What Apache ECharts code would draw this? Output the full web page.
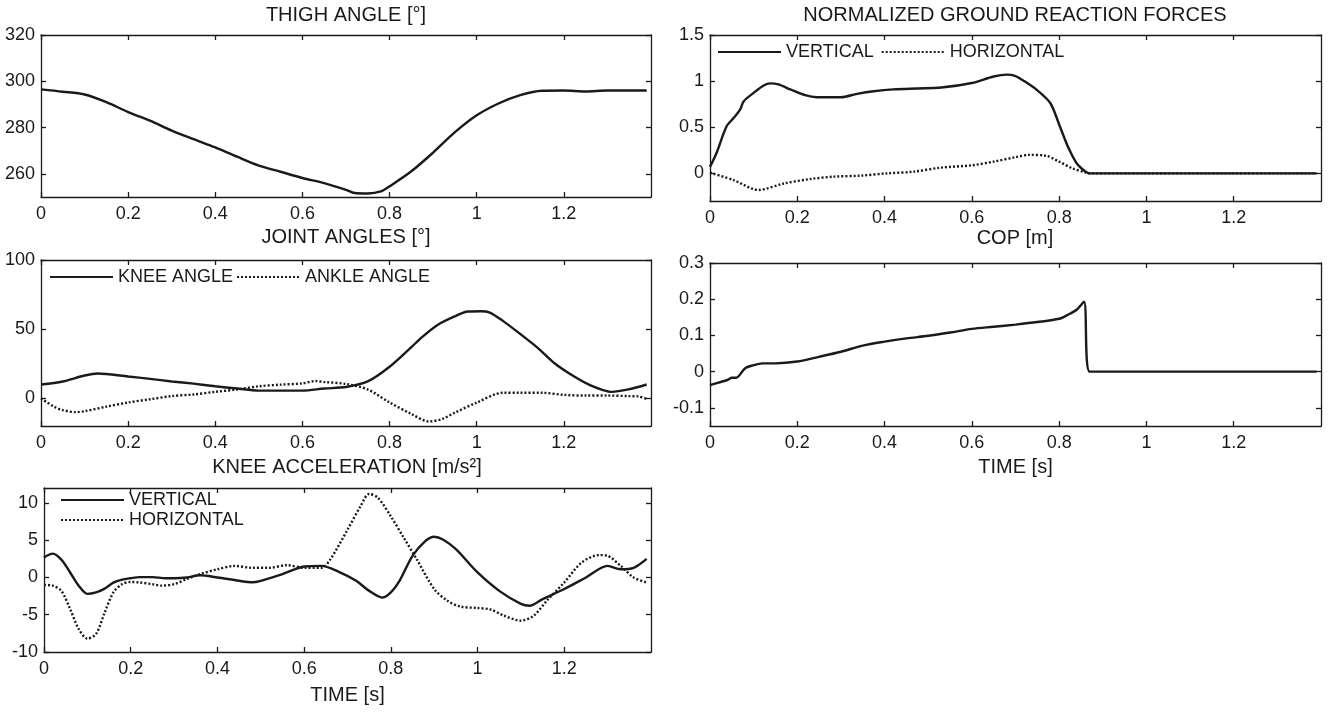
<!DOCTYPE html>
<html>
<head>
<meta charset="utf-8">
<script src="https://cdn.jsdelivr.net/npm/echarts@6/dist/echarts.min.js"></script>
<style>
html, body { margin: 0; padding: 0; background: #fff; }
#main { width: 1332px; height: 715px; }
</style>
</head>
<body>
<div id="main"></div>
<script>
// ---- data ----
var timeTicks = [0, 0.2, 0.4, 0.6, 0.8, 1, 1.2];

// thigh angle [deg]
var thighT = [0, 0.05, 0.1, 0.15, 0.2, 0.25, 0.3, 0.35, 0.4, 0.45, 0.5, 0.55, 0.6, 0.65, 0.7, 0.72, 0.75, 0.78, 0.8, 0.85, 0.9, 0.95, 1.0, 1.05, 1.1, 1.15, 1.2, 1.25, 1.3, 1.35, 1.39];
var thighAngle = [296.5, 295.5, 294.3, 291, 286.7, 283, 278.7, 275, 271.4, 267.4, 263.6, 260.9, 258.2, 256, 253.1, 251.7, 251.5, 252.4, 254.6, 261.1, 269.2, 278, 285.3, 290.4, 294, 295.9, 296, 295.6, 296, 296, 296];

// joint angles [deg]
var kneeT = [0, 0.05, 0.1, 0.13, 0.15, 0.2, 0.25, 0.3, 0.35, 0.4, 0.45, 0.5, 0.55, 0.6, 0.65, 0.7, 0.75, 0.8, 0.85, 0.87, 0.91, 0.95, 0.98, 1.01, 1.03, 1.06, 1.1, 1.14, 1.18, 1.22, 1.26, 1.29, 1.31, 1.35, 1.39];
var kneeAngle = [10, 12.2, 16.5, 18, 17.6, 15.8, 14.1, 12.2, 10.6, 8.7, 7.1, 5.6, 5.6, 5.6, 7.1, 8.2, 12.2, 22.8, 37, 43, 53, 59.3, 62.8, 63, 62, 56, 46.5, 36.5, 25, 16.5, 9.5, 6, 4.7, 6.6, 10];
var ankleT = [0, 0.03, 0.05, 0.08, 0.1, 0.15, 0.2, 0.25, 0.3, 0.35, 0.4, 0.45, 0.5, 0.55, 0.6, 0.63, 0.65, 0.7, 0.75, 0.8, 0.85, 0.89, 0.92, 0.95, 1.0, 1.06, 1.1, 1.15, 1.2, 1.25, 1.3, 1.35, 1.37, 1.39];
var ankleAngle = [0, -6, -8.5, -10, -9.3, -6, -3, -0.7, 1.6, 2.8, 4.7, 6.4, 8.7, 9.9, 10.8, 12.5, 11.8, 10.4, 6.4, -3, -11.3, -16.7, -15, -10.3, -3.1, 4, 4, 4, 2.5, 2, 2, 1.6, 1.4, -0.5];

// knee acceleration [m/s2]
var accVT = [0, 0.02, 0.04, 0.06, 0.08, 0.1, 0.12, 0.14, 0.16, 0.18, 0.2, 0.22, 0.25, 0.28, 0.3, 0.33, 0.36, 0.4, 0.45, 0.48, 0.5, 0.55, 0.6, 0.64, 0.68, 0.72, 0.75, 0.78, 0.8, 0.82, 0.85, 0.88, 0.9, 0.92, 0.95, 1.0, 1.05, 1.1, 1.12, 1.15, 1.2, 1.25, 1.3, 1.33, 1.36, 1.39];
var accVertical = [2.67, 3.2, 2.4, 0.7, -1.1, -2.2, -2.0, -1.5, -0.7, -0.3, -0.1, 0.05, 0.05, -0.1, -0.1, 0, 0.3, 0, -0.45, -0.65, -0.45, 0.45, 1.47, 1.55, 0.75, -0.45, -1.8, -2.7, -2.0, -0.45, 2.9, 4.9, 5.47, 5.1, 3.8, 0.67, -1.8, -3.55, -3.8, -2.9, -1.55, 0, 1.55, 1.1, 1.3, 2.5];
var accHT = [0, 0.02, 0.04, 0.06, 0.08, 0.1, 0.12, 0.14, 0.16, 0.18, 0.2, 0.22, 0.25, 0.27, 0.3, 0.33, 0.36, 0.4, 0.44, 0.48, 0.52, 0.56, 0.6, 0.64, 0.66, 0.7, 0.73, 0.75, 0.77, 0.8, 0.83, 0.86, 0.9, 0.93, 0.96, 1.0, 1.03, 1.06, 1.1, 1.13, 1.16, 1.2, 1.24, 1.28, 1.3, 1.33, 1.36, 1.39];
var accHorizontal = [-1.0, -1.1, -1.8, -4.2, -6.9, -8.2, -7.6, -4.7, -2.0, -0.9, -0.6, -0.67, -0.9, -1.1, -0.9, -0.2, 0.45, 1.1, 1.55, 1.3, 1.3, 1.65, 1.3, 1.3, 2.4, 6.4, 9.55, 11.2, 10.7, 8.2, 5.3, 2.4, -1.55, -3.1, -3.9, -4.1, -4.3, -5.1, -5.8, -5.1, -3.1, -0.67, 2.0, 3.0, 2.9, 1.55, 0, -0.67];

// normalized ground reaction forces
var grfVT = [0, 0.015, 0.038, 0.054, 0.069, 0.077, 0.1, 0.123, 0.138, 0.157, 0.184, 0.218, 0.245, 0.3, 0.337, 0.375, 0.42, 0.475, 0.53, 0.6, 0.65, 0.68, 0.7, 0.72, 0.75, 0.78, 0.8, 0.82, 0.84, 0.86, 0.87, 1.0, 1.2, 1.39];
var grfVertical = [0.07, 0.22, 0.51, 0.6, 0.69, 0.78, 0.873, 0.953, 0.975, 0.964, 0.91, 0.847, 0.825, 0.825, 0.862, 0.89, 0.91, 0.92, 0.93, 0.98, 1.05, 1.07, 1.055, 1.0, 0.9, 0.76, 0.53, 0.29, 0.11, 0.02, 0, 0, 0, 0];
var grfHT = [0, 0.054, 0.111, 0.169, 0.23, 0.284, 0.345, 0.406, 0.467, 0.529, 0.6, 0.65, 0.7, 0.73, 0.77, 0.8, 0.83, 0.86, 0.87, 1.0, 1.2, 1.39];
var grfHorizontal = [0.007, -0.073, -0.18, -0.11, -0.062, -0.036, -0.025, 0, 0.018, 0.062, 0.087, 0.127, 0.175, 0.2, 0.19, 0.127, 0.055, 0.01, 0, 0, 0, 0];

// centre of pressure [m]
var copT = [0, 0.02, 0.04, 0.05, 0.06, 0.08, 0.1, 0.12, 0.15, 0.2, 0.25, 0.3, 0.35, 0.4, 0.45, 0.5, 0.55, 0.6, 0.65, 0.7, 0.75, 0.8, 0.82, 0.84, 0.857, 0.87, 1.0, 1.2, 1.39];
var copValue = [-0.037, -0.03, -0.023, -0.017, -0.017, 0.009, 0.018, 0.023, 0.023, 0.028, 0.041, 0.055, 0.072, 0.083, 0.092, 0.099, 0.108, 0.118, 0.124, 0.13, 0.137, 0.146, 0.157, 0.171, 0.193, 0, 0, 0, 0];

// ---- chart ----
var FONT = '"Liberation Sans", Arial, sans-serif';
var INK = '#1a1a1a';

var grids = [
	{left: 41, top: 35, width: 610, height: 162},   // thigh
	{left: 41, top: 260, width: 610, height: 166},  // joint angles
	{left: 44, top: 488, width: 607, height: 164},  // knee acceleration
	{left: 710, top: 35, width: 611, height: 166},  // GRF
	{left: 710, top: 263, width: 611, height: 163}  // COP
];

var xAxes = [], yAxes = [];
function addAxes(g, yMin, yMax, yTicks, timeName, nameGap) {
	var axisLine = {show: true, onZero: false, lineStyle: {color: INK, width: 1.3}};
	function ticks(v) {
		return {show: true, inside: true, length: 5, customValues: v, lineStyle: {color: INK, width: 1.3}};
	}
	var lab = {fontSize: 18, color: INK, fontFamily: FONT};
	xAxes.push({
		gridIndex: g, type: 'value', min: 0, max: 1.4, position: 'bottom',
		axisLine: axisLine, axisTick: ticks(timeTicks), splitLine: {show: false},
		axisLabel: Object.assign({customValues: timeTicks, margin: 8}, lab),
		name: timeName || '', nameLocation: 'middle', nameGap: nameGap || 30,
		nameTextStyle: {fontSize: 20, color: INK, fontFamily: FONT}
	});
	xAxes.push({
		gridIndex: g, type: 'value', min: 0, max: 1.4, position: 'top',
		axisLine: axisLine, axisTick: ticks(timeTicks), splitLine: {show: false},
		axisLabel: {show: false}
	});
	yAxes.push({
		gridIndex: g, type: 'value', min: yMin, max: yMax, position: 'left',
		axisLine: axisLine, axisTick: ticks(yTicks), splitLine: {show: false},
		axisLabel: Object.assign({customValues: yTicks, margin: 6}, lab)
	});
	yAxes.push({
		gridIndex: g, type: 'value', min: yMin, max: yMax, position: 'right',
		axisLine: axisLine, axisTick: ticks(yTicks), splitLine: {show: false},
		axisLabel: {show: false}
	});
}
addAxes(0, 250, 320, [260, 280, 300, 320]);
addAxes(1, -20, 100, [0, 50, 100]);
addAxes(2, -10, 12, [-10, -5, 0, 5, 10], 'TIME [s]', 33);
addAxes(3, -0.3, 1.5, [0, 0.5, 1, 1.5]);
addAxes(4, -0.15, 0.3, [-0.1, 0, 0.1, 0.2, 0.3], 'TIME [s]', 31);

function curve(name, ts, vs, g, dotted) {
	return {
		name: name, type: 'line', xAxisIndex: 2 * g, yAxisIndex: 2 * g,
		data: ts.map(function (t, i) { return [t, vs[i]]; }),
		symbol: 'none', smooth: 0.3, animation: false,
		lineStyle: {color: INK, width: 2.4, type: dotted ? [2, 2] : 'solid'},
		itemStyle: {color: INK},
		z: dotted ? 2 : 3
	};
}

var legendBase = {
	padding: 0, itemWidth: 63, itemHeight: 14, selectedMode: false,
	textStyle: {fontSize: 18, color: INK, fontFamily: FONT},
	itemStyle: {color: 'rgba(0,0,0,0)', borderWidth: 0, opacity: 0}
};

function title(text, x, y) {
	return {
		type: 'text', x: x, y: y,
		style: {text: text, fontSize: 20, fontFamily: FONT, fill: INK, align: 'center', verticalAlign: 'middle'}
	};
}

var chart = echarts.init(document.getElementById('main'));
chart.setOption({
	backgroundColor: '#fff',
	animation: false,
	grid: grids,
	xAxis: xAxes,
	yAxis: yAxes,
	legend: [
		Object.assign({data: ['VERTICAL', 'HORIZONTAL'], left: 717, top: 43, itemGap: 7}, legendBase),
		Object.assign({data: ['KNEE ANGLE', 'ANKLE ANGLE'], left: 49, top: 268, itemGap: 3}, legendBase),
		Object.assign({data: ['VERTICAL', 'HORIZONTAL'], left: 60, top: 491, orient: 'vertical', itemGap: 2}, legendBase)
	],
	graphic: [
		title('THIGH ANGLE [°]', 346, 15),
		title('NORMALIZED GROUND REACTION FORCES', 1015, 15),
		title('JOINT ANGLES [°]', 346, 237),
		title('COP [m]', 1015, 238),
		title('KNEE ACCELERATION [m/s²]', 347, 467)
	],
	series: [
		curve('THIGH ANGLE', thighT, thighAngle, 0, false),
		curve('KNEE ANGLE', kneeT, kneeAngle, 1, false),
		curve('ANKLE ANGLE', ankleT, ankleAngle, 1, true),
		curve('VERTICAL', accVT, accVertical, 2, false),
		curve('HORIZONTAL', accHT, accHorizontal, 2, true),
		curve('VERTICAL', grfVT, grfVertical, 3, false),
		curve('HORIZONTAL', grfHT, grfHorizontal, 3, true),
		curve('COP', copT, copValue, 4, false)
	]
});
</script>
</body>
</html>
